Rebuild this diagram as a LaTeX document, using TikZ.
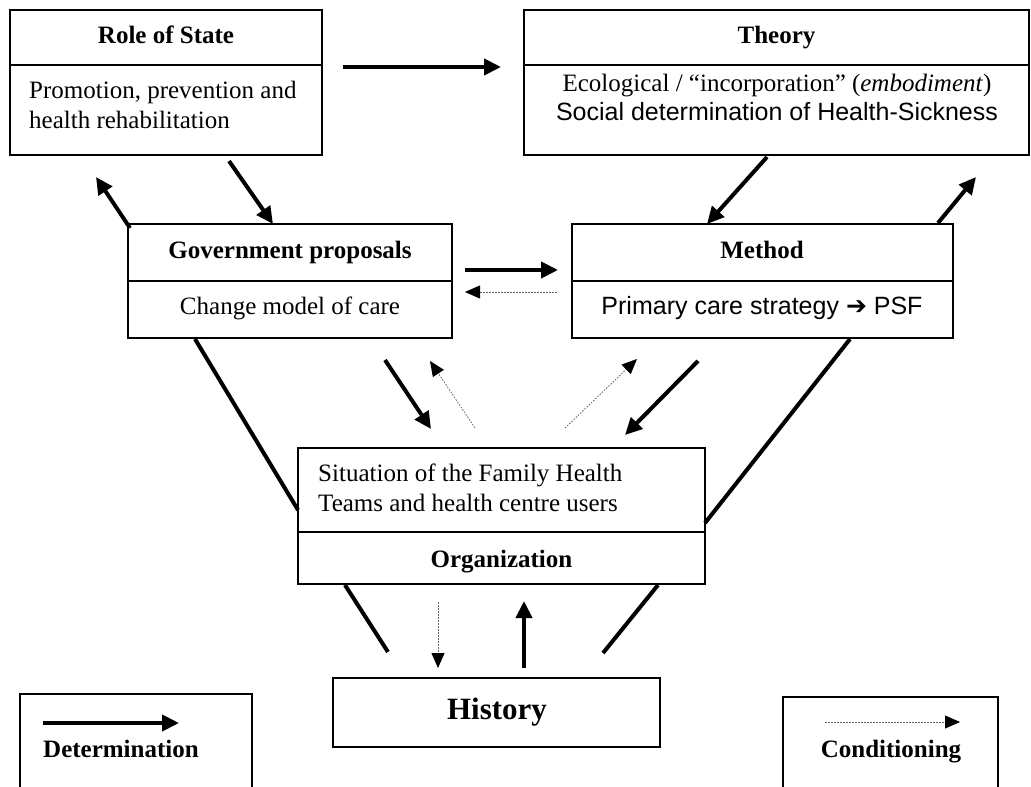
\documentclass[tikz,border=0pt]{standalone}
\usepackage{fontspec}
\setmainfont{Liberation Serif}
\newfontfamily\arialf{Liberation Sans}
\newfontfamily\dejavuf{DejaVu Sans}
\usetikzlibrary{arrows.meta}
\begin{document}
\begin{tikzpicture}[x=1pt,y=-1pt,
  box/.style={draw, line width=1.2pt, inner sep=0pt, outer sep=0pt},
  txt/.style={anchor=base, inner sep=0pt, font=\fontsize{25}{30}\selectfont},
  ltxt/.style={anchor=base west, inner sep=0pt, font=\fontsize{25}{30}\selectfont},
  det/.style={line width=4pt, -{Triangle[length=17pt,width=16pt]}},
  cond/.style={draw=gray!80!black, line width=0.8pt, dash pattern=on 1.6pt off 1.4pt, -{Triangle[length=15pt,width=13pt,black]}},
  bar/.style={line width=4pt}
]
\useasboundingbox (0,0) rectangle (1031,787);
% boxes
\node[box, minimum width=312pt, minimum height=55pt] (rsH) at (166,37.5) {};
\node[box, minimum width=312pt, minimum height=90pt] (rsB) at (166,110) {};
\node[box, minimum width=505pt, minimum height=55pt] (thH) at (776.5,37.5) {};
\node[box, minimum width=505pt, minimum height=90pt] (thB) at (776.5,110) {};
\node[box, minimum width=324pt, minimum height=57pt] (gpH) at (290,252.5) {};
\node[box, minimum width=324pt, minimum height=57pt] (gpB) at (290,309.5) {};
\node[box, minimum width=381pt, minimum height=57pt] (meH) at (762.5,252.5) {};
\node[box, minimum width=381pt, minimum height=57pt] (meB) at (762.5,309.5) {};
\node[box, minimum width=407pt, minimum height=84pt] (siT) at (501.5,490) {};
\node[box, minimum width=407pt, minimum height=52pt] (orB) at (501.5,558) {};
\node[box, minimum width=327pt, minimum height=69pt] (hi) at (496.5,712.5) {};
% legend frames (open at bottom)
\coordinate (ld1) at (20,792); \coordinate (ld2) at (20,694);
\coordinate (ld3) at (252,694); \coordinate (ld4) at (252,792);
\draw[line width=1.2pt] (ld1) -- (ld2) -- (ld3) -- (ld4);
\coordinate (lc1) at (783,792); \coordinate (lc2) at (783,697);
\coordinate (lc3) at (998,697); \coordinate (lc4) at (998,792);
\draw[line width=1.2pt] (lc1) -- (lc2) -- (lc3) -- (lc4);
% texts
\node[txt] (t1) at (166,43) {\bfseries Role of State};
\node[ltxt] (t2) at (29,98) {Promotion, prevention and};
\node[ltxt] (t3) at (29,128) {health rehabilitation};
\node[txt] (t4) at (776.5,43) {\bfseries Theory};
\node[txt] (t5) at (777,91) {Ecological / “incorporation” (\textit{embodiment})};
\node[txt] (t6) at (777,120) {\arialf Social determination of Health-Sickness};
\node[txt] (t7) at (290,258) {\bfseries Government proposals};
\node[txt] (t8) at (290,314) {Change model of care};
\node[txt] (t9) at (762,258) {\bfseries Method};
\node[txt] (t10) at (762,314) {\arialf Primary care strategy {\dejavuf ➔} PSF};
\node[ltxt] (t11) at (318,481) {Situation of the Family Health};
\node[ltxt] (t12) at (318,511) {Teams and health centre users};
\node[txt] (t13) at (501.5,567) {\bfseries Organization};
\node[txt, font=\fontsize{31}{36}\selectfont] (t14) at (497,719) {\bfseries History};
\node[ltxt] (t15) at (43,757) {\bfseries Determination};
\node[txt] (t16) at (891,757) {\bfseries Conditioning};
% connector end points
\coordinate (a1) at (343,67);  \coordinate (a2) at (501,67);
\coordinate (b1) at (130,228); \coordinate (b2) at (96,177);
\coordinate (c1) at (229,161); \coordinate (c2) at (273,224);
\coordinate (d1) at (767,157); \coordinate (d2) at (707,224);
\coordinate (e1) at (938,223); \coordinate (e2) at (976,177);
\coordinate (f1) at (465,270); \coordinate (f2) at (558,270);
\coordinate (g1) at (557,292); \coordinate (g2) at (465,292);
\coordinate (h1) at (385,360); \coordinate (h2) at (431,429);
\coordinate (i1) at (475,428); \coordinate (i2) at (430,361);
\coordinate (j1) at (565,428); \coordinate (j2) at (637,359);
\coordinate (k1) at (698,361); \coordinate (k2) at (625,435);
\coordinate (l1) at (195,339); \coordinate (l2) at (298,510);
\coordinate (m1) at (850,339); \coordinate (m2) at (705,523);
\coordinate (n1) at (345,585); \coordinate (n2) at (388,652);
\coordinate (o1) at (658,585); \coordinate (o2) at (603,653);
\coordinate (p1) at (438,602); \coordinate (p2) at (438,668);
\coordinate (q1) at (524,668); \coordinate (q2) at (524,601);
\coordinate (r1) at (43,723);  \coordinate (r2) at (179,723);
\coordinate (s1) at (825,722); \coordinate (s2) at (960,722);
% connectors
\draw[det] (a1) -- (a2);
\draw[det] (b1) -- (b2);
\draw[det] (c1) -- (c2);
\draw[det] (d1) -- (d2);
\draw[det] (e1) -- (e2);
\draw[det] (f1) -- (f2);
\draw[cond] (g1) -- (g2);
\draw[det] (h1) -- (h2);
\draw[cond] (i1) -- (i2);
\draw[cond] (j1) -- (j2);
\draw[det] (k1) -- (k2);
\draw[bar] (l1) -- (l2);
\draw[bar] (m1) -- (m2);
\draw[bar] (n1) -- (n2);
\draw[bar] (o1) -- (o2);
\draw[cond] (p1) -- (p2);
\draw[det] (q1) -- (q2);
\draw[det] (r1) -- (r2);
\draw[cond] (s1) -- (s2);
\end{tikzpicture}
\end{document}
